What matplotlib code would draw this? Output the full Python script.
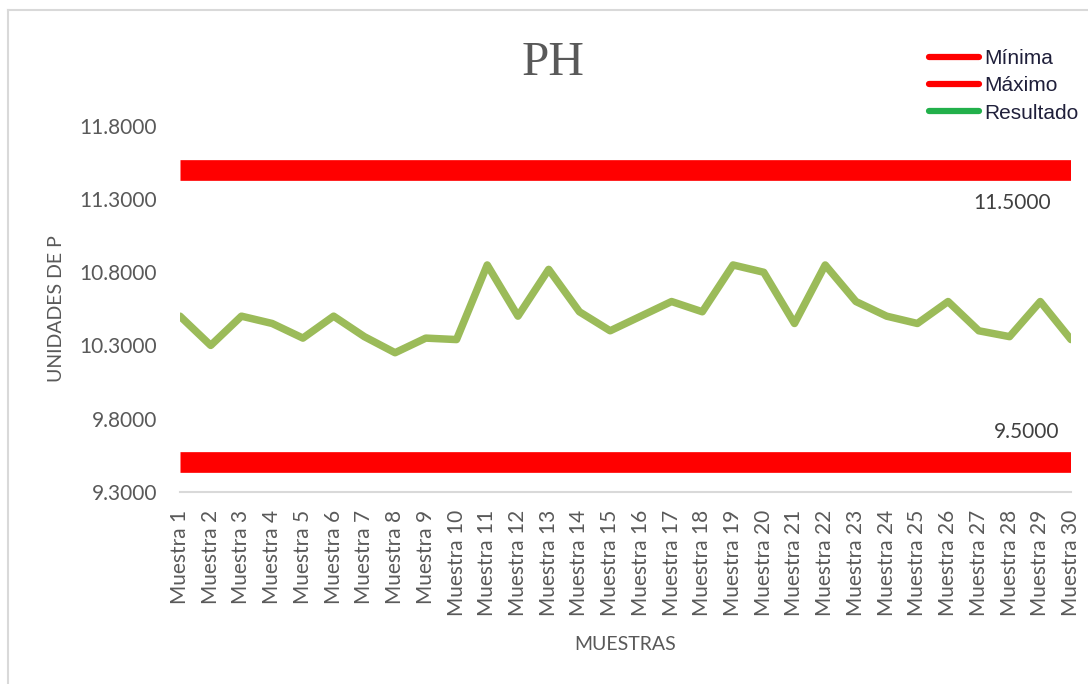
import matplotlib
matplotlib.use("Agg")
import matplotlib.pyplot as plt
from matplotlib.lines import Line2D

# datos del grafico
muestras = ["Muestra %d" % i for i in range(1, 31)]
resultado = [10.50, 10.30, 10.50, 10.45, 10.35, 10.50, 10.36, 10.25, 10.35, 10.34,
             10.85, 10.50, 10.82, 10.53, 10.40, 10.50, 10.60, 10.53, 10.85, 10.80,
             10.45, 10.85, 10.60, 10.50, 10.45, 10.60, 10.40, 10.36, 10.60, 10.34]
minima = [9.5] * 30
maximo = [11.5] * 30
yticks = [9.3, 9.8, 10.3, 10.8, 11.3, 11.8]

gris = "#595959"
W, H = 1088, 684

fig = plt.figure(figsize=(W / 100, H / 100), dpi=100)
ax = fig.add_axes([180 / W, 1 - 491.7 / H, 891 / W, 365.7 / H])

x = list(range(len(muestras)))
ax.plot(x, minima, color="#ff0000", lw=14.9, solid_capstyle="butt")
ax.plot(x, maximo, color="#ff0000", lw=14.9, solid_capstyle="butt")
ax.plot(x, resultado, color="#9bbb59", lw=5.4, solid_joinstyle="round",
        solid_capstyle="round")

# etiquetas de datos en el ultimo punto
ax.annotate("%.4f" % maximo[-1], (x[-1], maximo[-1]), xytext=(-42.5, -23.8),
            textcoords="offset points", ha="center", va="center",
            fontsize=15, family="Lato", color="#404040")
ax.annotate("%.4f" % minima[-1], (x[-1], minima[-1]), xytext=(-32, 21.6),
            textcoords="offset points", ha="center", va="center",
            fontsize=15, family="Lato", color="#404040")

ax.set_xlim(0, len(muestras) - 1)
ax.set_ylim(yticks[0], yticks[-1])
ax.set_yticks(yticks)
ax.set_yticklabels(["%.4f" % v for v in yticks])
ax.set_xticks(x)
ax.set_xticklabels(muestras, rotation=90)
ax.tick_params(axis="both", length=0, labelsize=15, labelcolor=gris)
ax.tick_params(axis="y", pad=16.5)
ax.tick_params(axis="x", pad=13)
for lab in ax.get_xticklabels() + ax.get_yticklabels():
    lab.set_family("Lato")

for s in ["top", "right", "left"]:
    ax.spines[s].set_visible(False)
ax.spines["bottom"].set_color("#d9d9d9")
ax.spines["bottom"].set_linewidth(1.5)

ax.set_xlabel("MUESTRAS", fontsize=14, family="Lato", color=gris, va="center")
ax.xaxis.set_label_coords(0.5, (491.7 - 645) / 365.7)
ax.set_ylabel("UNIDADES DE P", fontsize=14, family="Lato", color=gris, va="center")
ax.yaxis.set_label_coords((57 - 180) / 891, 0.5)

fig.text(553 / W, 1 - 63 / H, "PH", ha="center", va="center", fontsize=35.5,
         family="Liberation Serif", color=gris)

# leyenda
handles = [Line2D([], [], color="#ff0000", lw=4.5, solid_capstyle="round"),
           Line2D([], [], color="#ff0000", lw=4.5, solid_capstyle="round"),
           Line2D([], [], color="#22b04b", lw=4.5, solid_capstyle="round")]
leg = fig.legend(handles, ["Mínima", "Máximo", "Resultado"], loc="upper left",
                 bbox_to_anchor=(929 / W, 1 - 49 / H), frameon=False,
                 prop={"family": "Liberation Sans", "size": 15},
                 handlelength=2.4, handletextpad=0.25, labelspacing=0.4,
                 borderaxespad=0, borderpad=0)
for t in leg.get_texts():
    t.set_color("#1f1f3a")

# borde del area del grafico
fig.add_artist(Line2D([8 / W, 8 / W], [0, 1 - 10 / H], transform=fig.transFigure,
                      color="#d9d9d9", lw=1.5))
fig.add_artist(Line2D([8 / W, 1], [1 - 10 / H, 1 - 10 / H], transform=fig.transFigure,
                      color="#d9d9d9", lw=1.5))

fig.savefig("out.png", dpi=100)
